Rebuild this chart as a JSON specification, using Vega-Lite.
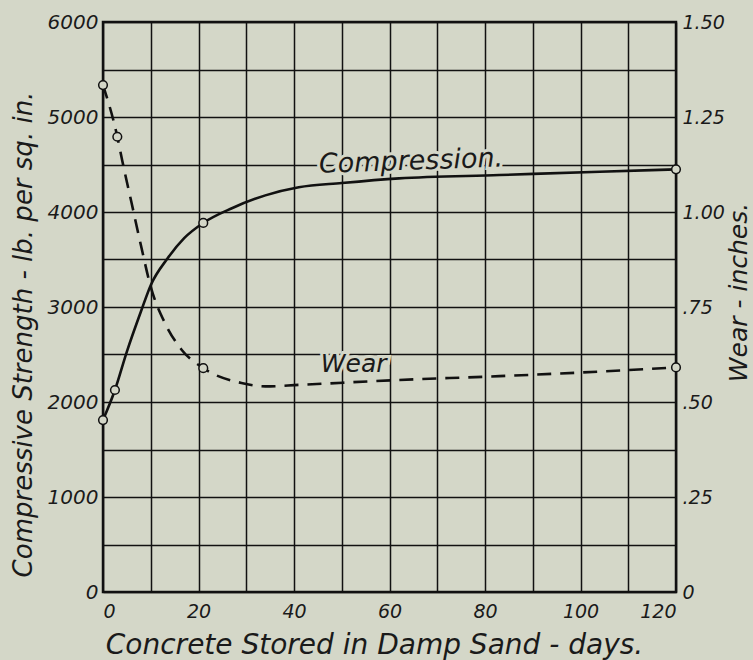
{
  "$schema": "https://vega.github.io/schema/vega-lite/v6.json",
  "width": 573,
  "height": 570,
  "autosize": {"type": "none"},
  "padding": {"left": 103, "top": 22, "right": 77, "bottom": 68},
  "background": "#d4d7c8",
  "config": {
    "font": "DejaVu Sans",
    "view": {"stroke": "#111111", "strokeWidth": 2.5, "fill": "#d4d7c8"},
    "axis": {
      "domain": false,
      "ticks": false,
      "gridColor": "#111111",
      "gridWidth": 1.5,
      "gridOpacity": 1,
      "labelFont": "DejaVu Sans",
      "labelFontStyle": "italic",
      "labelFontWeight": "normal",
      "labelFontSize": 18,
      "labelColor": "#1a1a1a",
      "titleFont": "DejaVu Sans",
      "titleFontStyle": "italic",
      "titleFontWeight": "normal",
      "titleColor": "#1a1a1a",
      "labelOverlap": false
    }
  },
  "datasets": {
    "comp": [
      {"day": 0, "value": 1810},
      {"day": 2.5, "value": 2126},
      {"day": 5, "value": 2530},
      {"day": 8, "value": 2960},
      {"day": 10, "value": 3230},
      {"day": 13.5, "value": 3510},
      {"day": 17, "value": 3725},
      {"day": 21, "value": 3885},
      {"day": 27, "value": 4040},
      {"day": 34, "value": 4175},
      {"day": 41, "value": 4260},
      {"day": 50, "value": 4305},
      {"day": 62, "value": 4354},
      {"day": 83, "value": 4389},
      {"day": 104, "value": 4424},
      {"day": 120, "value": 4449}
    ],
    "compObs": [
      {"day": 0, "value": 1810},
      {"day": 2.5, "value": 2126},
      {"day": 21, "value": 3885},
      {"day": 120, "value": 4449}
    ],
    "wear": [
      {"day": 0, "wear": 1.334},
      {"day": 3, "wear": 1.198},
      {"day": 4, "wear": 1.137},
      {"day": 6, "wear": 1.023},
      {"day": 8, "wear": 0.909},
      {"day": 10, "wear": 0.803},
      {"day": 13, "wear": 0.707},
      {"day": 16.5, "wear": 0.637},
      {"day": 21, "wear": 0.589},
      {"day": 29, "wear": 0.55},
      {"day": 34, "wear": 0.541},
      {"day": 41, "wear": 0.545},
      {"day": 62, "wear": 0.558},
      {"day": 83, "wear": 0.568},
      {"day": 104, "wear": 0.58},
      {"day": 120, "wear": 0.591}
    ],
    "wearObs": [
      {"day": 0, "wear": 1.334},
      {"day": 3, "wear": 1.198},
      {"day": 21, "wear": 0.589},
      {"day": 120, "wear": 0.591}
    ],
    "compLabel": [{"day": 64.5, "value": 4530, "text": "Compression."}],
    "wearLabel": [{"day": 52.5, "wear": 0.6, "text": "Wear"}]
  },
  "encoding": {
    "x": {
      "field": "day",
      "type": "quantitative",
      "scale": {"domain": [0, 120], "nice": false, "zero": false},
      "axis": {
        "values": [0, 10, 20, 30, 40, 50, 60, 70, 80, 90, 100, 110, 120],
        "labelExpr": "datum.value % 20 === 0 ? format(datum.value, 'd') : ''",
        "labelPadding": 10,
        "labelFontSize": 19,
        "grid": true,
        "title": "Concrete Stored in Damp Sand - days.",
        "titleFontSize": 28,
        "titleX": 271,
        "titleY": 53,
        "titleAlign": "center",
        "titleBaseline": "middle"
      }
    }
  },
  "layer": [
    {
      "layer": [
        {
          "data": {"name": "compLabel"},
          "mark": {"type": "text", "fontStyle": "italic", "fontSize": 27, "angle": 358, "fill": "#d4d7c8", "stroke": "#d4d7c8", "strokeWidth": 6},
          "encoding": {
            "y": {"field": "value", "type": "quantitative"},
            "text": {"field": "text"}
          }
        },
        {
          "data": {"name": "comp"},
          "mark": {"type": "line", "color": "#111111", "strokeWidth": 2.6, "interpolate": "monotone"},
          "encoding": {
            "y": {
              "field": "value",
              "type": "quantitative",
              "scale": {"domain": [0, 6000], "nice": false},
              "axis": {
                "orient": "left",
                "values": [0, 500, 1000, 1500, 2000, 2500, 3000, 3500, 4000, 4500, 5000, 5500, 6000],
                "labelExpr": "datum.value % 1000 === 0 ? format(datum.value, 'd') : ''",
                "labelPadding": 5,
                "labelFontSize": 20,
                "grid": true,
                "title": "Compressive Strength - lb. per sq. in.",
                "titleFontSize": 26,
                "titleAngle": 270,
                "titleX": -80,
                "titleY": 312,
                "titleAlign": "center",
                "titleBaseline": "middle"
              }
            }
          }
        },
        {
          "data": {"name": "compObs"},
          "mark": {"type": "point", "shape": "circle", "filled": true, "fill": "#d4d7c8", "fillOpacity": 1, "stroke": "#111111", "strokeWidth": 1.5, "size": 75, "opacity": 1},
          "encoding": {
            "y": {"field": "value", "type": "quantitative"}
          }
        },
        {
          "data": {"name": "compLabel"},
          "mark": {"type": "text", "fontStyle": "italic", "fontSize": 27, "angle": 358, "color": "#1a1a1a"},
          "encoding": {
            "y": {"field": "value", "type": "quantitative"},
            "text": {"field": "text"}
          }
        }
      ]
    },
    {
      "layer": [
        {
          "data": {"name": "wearLabel"},
          "mark": {"type": "text", "fontStyle": "italic", "fontSize": 25, "fill": "#d4d7c8", "stroke": "#d4d7c8", "strokeWidth": 6},
          "encoding": {
            "y": {"field": "wear", "type": "quantitative"},
            "text": {"field": "text"}
          }
        },
        {
          "data": {"name": "wear"},
          "mark": {"type": "line", "color": "#111111", "strokeWidth": 2.6, "strokeDash": [14, 9], "interpolate": "monotone"},
          "encoding": {
            "y": {
              "field": "wear",
              "type": "quantitative",
              "scale": {"domain": [0, 1.5], "nice": false},
              "axis": {
                "orient": "right",
                "values": [0, 0.25, 0.5, 0.75, 1, 1.25, 1.5],
                "labelExpr": "datum.value === 0 ? '0' : (datum.value < 1 ? replace(format(datum.value, '.2f'), '0.', '.') : format(datum.value, '.2f'))",
                "labelPadding": 6,
                "labelFontSize": 19,
                "grid": false,
                "title": "Wear - inches.",
                "titleFontSize": 25,
                "titleAngle": 270,
                "titleX": 62,
                "titleY": 270,
                "titleAlign": "center",
                "titleBaseline": "middle"
              }
            }
          }
        },
        {
          "data": {"name": "wearObs"},
          "mark": {"type": "point", "shape": "circle", "filled": true, "fill": "#d4d7c8", "fillOpacity": 1, "stroke": "#111111", "strokeWidth": 1.5, "size": 75, "opacity": 1},
          "encoding": {
            "y": {"field": "wear", "type": "quantitative"}
          }
        },
        {
          "data": {"name": "wearLabel"},
          "mark": {"type": "text", "fontStyle": "italic", "fontSize": 25, "color": "#1a1a1a"},
          "encoding": {
            "y": {"field": "wear", "type": "quantitative"},
            "text": {"field": "text"}
          }
        }
      ]
    }
  ],
  "resolve": {"scale": {"y": "independent"}}
}
